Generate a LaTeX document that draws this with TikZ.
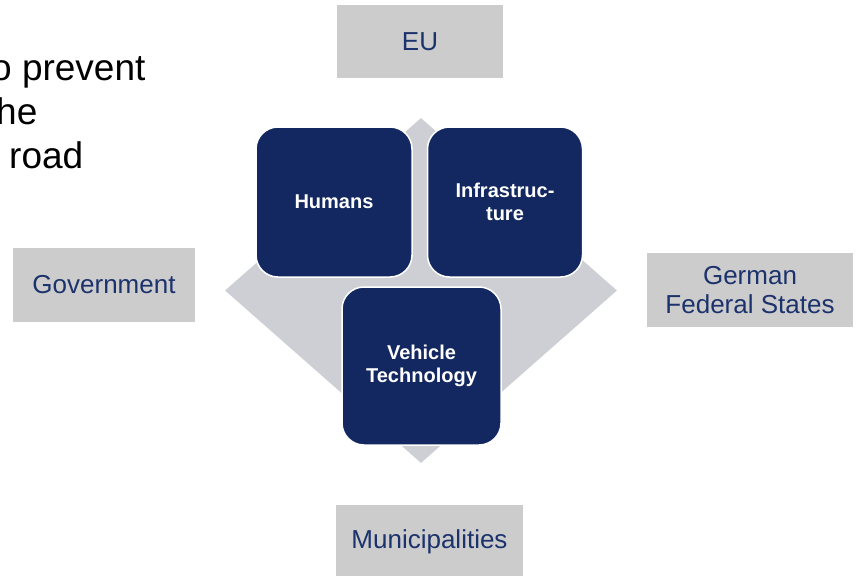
\documentclass[tikz,border=0pt]{standalone}
\usepackage{fontspec}
\setmainfont{Liberation Sans}
\usepackage{tikz}
\usetikzlibrary{positioning, shapes.geometric}
\definecolor{topicColor}{RGB}{19,40,96}
\definecolor{actorColor}{RGB}{204,204,204}
\definecolor{coreColor}{RGB}{205,207,212}
\definecolor{labelColor}{RGB}{28,50,108}
\tikzset{
    topicbox/.style={
        rectangle,
        rounded corners=22pt,
        fill=topicColor,
        draw=white,
        line width=1.5pt,
        text=white,
        font=\bfseries\fontsize{20}{23}\selectfont,
        align=center,
        inner sep=0pt,
        minimum width=156pt,
        minimum height=150pt
    },
    actorbox/.style={
        rectangle,
        fill=actorColor,
        text=labelColor,
        font=\fontsize{26}{29}\selectfont,
        align=center,
        inner sep=0pt,
        minimum height=74pt
    },
    bodytext/.style={
        anchor=base west,
        inner sep=0pt,
        font=\fontsize{37}{44}\selectfont
    }
}

\begin{document}
\begin{tikzpicture}[x=1pt, y=-1pt]
        \useasboundingbox (0,0) rectangle (860,576);
        \clip (0,0) rectangle (860,576);

        \node[bodytext] (line1) at (-9,80) {o prevent};
        \node[bodytext] (line2) at (-4,124) {he};
        \node[bodytext] (line3) at (9,168) {road};

        \node[diamond, fill=coreColor, inner sep=0pt, minimum width=392pt, minimum height=345pt] (core) at (421,290.5) {};

        \node[topicbox] (humans) at (334,202) {Humans};
        \node[topicbox, right=14pt of humans, minimum width=155pt] (infra) {Infrastruc-\\ture};
        \node[topicbox, minimum width=159pt, minimum height=158pt] (vehicle) at (421.5,366) {Vehicle\\Technology};

        \node[actorbox, minimum width=166pt, minimum height=73pt] (eu) at (420,41.5) {EU};
        \node[actorbox, minimum width=182pt] (gov) at (104,285) {Government};
        \node[actorbox, minimum width=206pt] (states) at (750,290) {German\\Federal States};
        \node[actorbox, minimum width=187pt, minimum height=73pt] (muni) at (429.5,541.5) {Municipalities};
    \end{tikzpicture}
\end{document}
